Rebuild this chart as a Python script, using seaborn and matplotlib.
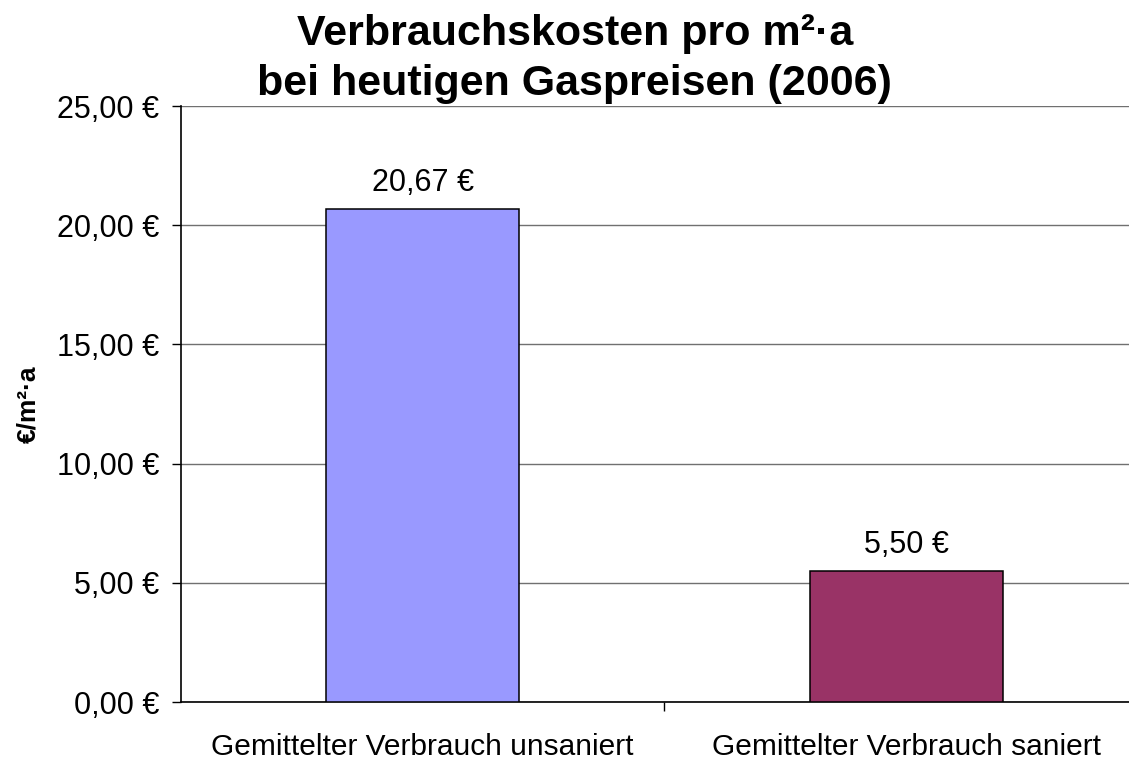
import matplotlib
matplotlib.use("Agg")
import matplotlib.pyplot as plt
from matplotlib.ticker import FuncFormatter, FixedLocator
import seaborn as sns
import pandas as pd

# chart data
categories = ["Gemittelter Verbrauch unsaniert", "Gemittelter Verbrauch saniert"]
kosten = [20.67, 5.50]
bar_colors = ["#9999FF", "#993366"]
title_lines = ["Verbrauchskosten pro m²·a", "bei heutigen Gaspreisen (2006)"]
ylabel = "€/m²·a"

sns.set_style("white")
plt.rcParams["font.family"] = ["Liberation Sans", "DejaVu Sans"]
plt.rcParams["text.color"] = "black"
plt.rcParams["axes.labelcolor"] = "black"
plt.rcParams["xtick.color"] = "black"
plt.rcParams["ytick.color"] = "black"

df = pd.DataFrame({"kategorie": categories, "kosten": kosten})

fig = plt.figure(figsize=(11.29, 7.6), dpi=100)
ax = fig.add_axes([0.160, 0.0763, 0.857, 0.7842])

sns.barplot(data=df, x="kategorie", y="kosten", hue="kategorie",
            palette=bar_colors, width=0.4, edgecolor="black",
            linewidth=1.1, saturation=1, legend=False, ax=ax, zorder=3)

def euro(v, pos=None):
    return f"{v:.2f} €".replace(".", ",")

for cont in ax.containers:
    ax.bar_label(cont, labels=[euro(b.get_height()) for b in cont],
                 padding=8, fontsize=22, color="black")

ax.set_ylim(0, 25)
ax.set_yticks([0, 5, 10, 15, 20, 25])
ax.yaxis.set_major_formatter(FuncFormatter(euro))
ax.set_xlim(-0.5, 1.5)
ax.grid(axis="y", color="#707070", linewidth=1, zorder=0)
ax.set_axisbelow(True)

for s in ["top", "right"]:
    ax.spines[s].set_visible(False)
for s in ["left", "bottom"]:
    ax.spines[s].set_color("black")
    ax.spines[s].set_linewidth(1.2)

ax.tick_params(axis="y", which="major", left=True, length=6.5, width=1,
               pad=9, labelsize=22)
ax.tick_params(axis="x", which="major", bottom=False, length=0,
               pad=22, labelsize=21.5)
ax.xaxis.set_minor_locator(FixedLocator([0.5]))
ax.tick_params(axis="x", which="minor", bottom=True, length=6.5, width=1)

ax.set_xlabel("")
ax.set_ylabel(ylabel, fontsize=19, fontweight="bold")
ax.yaxis.set_label_coords(-0.145, 0.50)

# title, two lines at the reference baselines
for line, ypix in zip(title_lines, [45, 95]):
    fig.text(0.509, 1 - ypix / 760, line, ha="center", va="baseline",
             fontsize=31, fontweight="bold")

fig.savefig("out.png", dpi=100)
